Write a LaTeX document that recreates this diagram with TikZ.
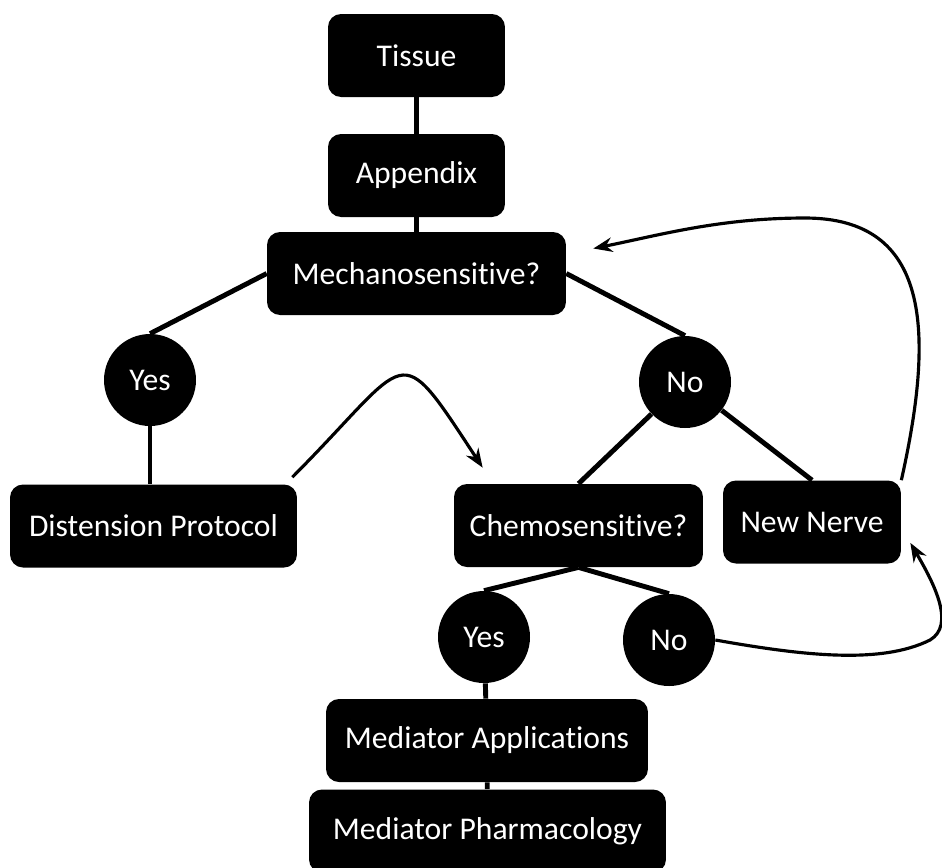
\documentclass[tikz,border=0pt]{standalone}
\usepackage{fontspec}
\setmainfont{Carlito}[Ligatures=NoCommon]
\usetikzlibrary{arrows.meta}

\begin{document}
\begin{tikzpicture}[x=0.02cm, y=-0.02cm,
    box/.style={fill=black, text=white, rounded corners=0.26cm, minimum height=1.66cm, inner sep=0pt, font=\fontsize{18}{22}\selectfont},
    dot/.style={circle, fill=black, text=white, minimum size=1.84cm, inner sep=0pt, font=\fontsize{18}{22}\selectfont},
    link/.style={line width=2.8pt},
    jump/.style={line width=1.8pt, -{Stealth[length=3.8mm, width=2.9mm]}}]
    \clip (0,0) rectangle (942,867);
    \node[box, minimum width=3.54cm] (tissue) at (416.5,55.5) {Tissue};
    \node[box, minimum width=3.54cm] (appendix) at (416.5,175.5) {Appendix};
    \node[box, minimum width=5.98cm] (mech) at (416.5,273.5) {Mechanosensitive?};
    \node[dot] (yesA) at (150,380) {Yes};
    \node[dot] (noA) at (685,382) {No};
    \node[box, minimum width=5.74cm] (dist) at (153.5,526) {Distension Protocol};
    \node[box, minimum width=4.98cm] (chemo) at (578.5,525.5) {Chemosensitive?};
    \node[box, minimum width=3.56cm] (nerve) at (812,522) {New Nerve};
    \node[dot] (yesB) at (484,637) {Yes};
    \node[dot] (noB) at (669,640) {No};
    \node[box, minimum width=6.44cm] (medapp) at (487,740.5) {Mediator Applications};
    \node[box, minimum width=7.14cm] (medpharm) at (487.5,831) {Mediator Pharmacology};
    \draw[link] (tissue) -- (appendix);
    \draw[link] (appendix) -- (mech);
    \draw[link] (mech.west) -- (yesA.north);
    \draw[link] (mech.east) -- (noA.north);
    \draw[link] (yesA) -- (yesA |- dist.north);
    \draw[link] (noA) -- (chemo.north);
    \draw[link] (noA) -- (nerve.north);
    \draw[link] (chemo.south) -- (yesB.north);
    \draw[link] (chemo.south) -- (noB.north);
    \draw[link] (yesB) -- (medapp);
    \draw[link] (medapp) -- (medpharm);
    \draw[jump] ([shift={(-5,-7)}]dist.north east) .. controls (413,356) and (395,334) .. ([shift={(29,-16)}]chemo.north west);
    \draw[jump] (nerve.north east) .. controls (935,330) and (930,218) .. (805,218) .. controls (720,218) and (660,235) .. ([shift={(27,-25)}]mech.east);
    \draw[jump] (noB.east) .. controls (800,655) and (880,665) .. (930,640) .. controls (955,625) and (935,585) .. ([shift={(9,-21)}]nerve.south east);
\end{tikzpicture}
\end{document}
